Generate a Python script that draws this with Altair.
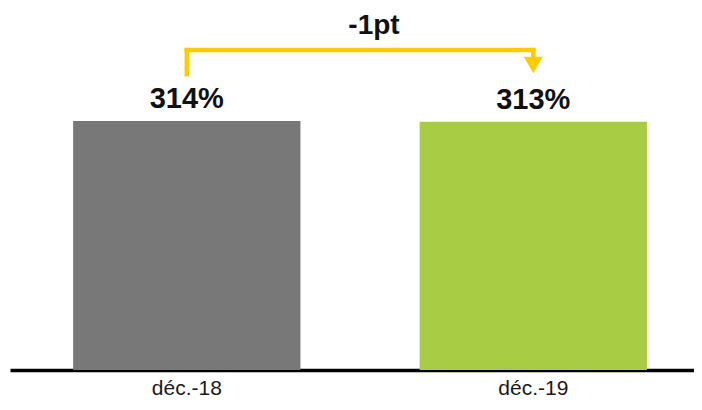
import altair as alt
import pandas as pd

categories = ["déc.-18", "déc.-19"]
values = [314, 313]
labels = ["314%", "313%"]
colors = ["#787878", "#A8CD44"]
delta_label = "-1pt"

# bracket annotation levels (in data units)
bracket_top = 403.5
bracket_left_bottom = 373
bracket_right_bottom = 385
arrow_y = 384.6

df = pd.DataFrame({"cat": categories, "val": values, "label": labels, "color": colors})

FONT = "Liberation Sans"
YEL = "#FFCC00"
xscale = alt.Scale(domain=categories, paddingInner=0.344, paddingOuter=0.159, align=0.573)
yscale = alt.Scale(domain=[0, 456.5], nice=False)

x = alt.X("cat:N", scale=xscale, sort=categories,
          axis=alt.Axis(title=None, labelAngle=0, labelFont=FONT, labelFontSize=21,
                        labelColor="#1a1a1a", ticks=False, domainColor="#000000",
                        domainWidth=3.5, labelPadding=7))

bars = alt.Chart(df).mark_bar().encode(
    x=x,
    y=alt.Y("val:Q", scale=yscale, axis=None),
    color=alt.Color("color:N", scale=None),
)

text = alt.Chart(df).mark_text(font=FONT, fontSize=29, fontWeight="bold", dy=-13,
                               baseline="alphabetic", color="#111111").encode(
    x="cat:N", y="val:Q", text="label:N")

brk = pd.DataFrame({
    "cat": [categories[0], categories[1]],
    "y1": [bracket_left_bottom, bracket_right_bottom],
    "y2": [bracket_top, bracket_top],
})
verts = alt.Chart(brk).mark_rule(color=YEL, strokeWidth=4.5, strokeCap="square").encode(
    x="cat:N", y="y1:Q", y2="y2:Q")

horiz_df = pd.DataFrame({"a": [categories[0]], "b": [categories[1]], "y": [bracket_top]})
horiz = alt.Chart(horiz_df).mark_rule(color=YEL, strokeWidth=4.5, strokeCap="square").encode(
    x="a:N", x2="b:N", y="y:Q")

arrow_df = pd.DataFrame({"cat": [categories[1]], "y": [arrow_y]})
arrow = alt.Chart(arrow_df).mark_point(shape="triangle-down", filled=True, size=360,
                                       color=YEL, opacity=1, strokeWidth=0).encode(
    x="cat:N", y="y:Q")

mid = alt.Chart(pd.DataFrame({"t": [delta_label], "y": [bracket_top]})).mark_text(
    font=FONT, fontSize=28, fontWeight="bold", color="#111111", dy=-16,
    baseline="alphabetic").encode(
    x=alt.value(364), y="y:Q", text="t:N")

chart = alt.layer(bars, text, verts, horiz, arrow, mid).properties(
    width=684, height=362,
    autosize=alt.AutoSizeParams(type="none"),
    padding={"left": 2, "top": 0, "right": 0, "bottom": 28},
    view=alt.ViewBackground(stroke="transparent", strokeWidth=0),
).configure_view(stroke="transparent", strokeWidth=0).configure(background="#ffffff")

chart.save("out.html", embed_options={"renderer": "svg", "actions": False})
